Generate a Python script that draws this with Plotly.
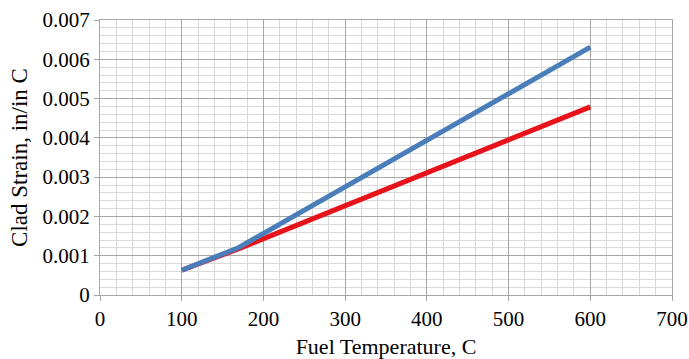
import plotly.graph_objects as go

# Data
blue_x = [100, 170, 600]
blue_y = [0.00063, 0.00121, 0.00631]
red_x = [100, 170, 600]
red_y = [0.00063, 0.00118, 0.00479]

x_ticks = [0, 100, 200, 300, 400, 500, 600, 700]
y_ticks = [0, 0.001, 0.002, 0.003, 0.004, 0.005, 0.006, 0.007]
y_tick_text = ["0", "0.001", "0.002", "0.003", "0.004", "0.005", "0.006", "0.007"]

fig = go.Figure()
fig.add_trace(go.Scatter(x=red_x, y=red_y, mode="lines",
                         line=dict(color="#e8121b", width=5), showlegend=False))
fig.add_trace(go.Scatter(x=blue_x, y=blue_y, mode="lines",
                         line=dict(color="#4a7ebb", width=5), showlegend=False))

font_family = "Liberation Serif"
fig.update_layout(
    width=689, height=359,
    margin=dict(l=100, r=17, t=20, b=64),
    paper_bgcolor="white", plot_bgcolor="white",
    font=dict(family=font_family, size=21, color="black"),
    xaxis=dict(
        range=[0, 700], tickvals=x_ticks, ticks="outside", ticklen=5,
        tickcolor="#a6a6a6", showline=True, linecolor="#a6a6a6", linewidth=1,
        showgrid=True, gridcolor="#a6a6a6", gridwidth=1, zeroline=False,
        minor=dict(dtick=20, showgrid=True, gridcolor="#d9d9d9", gridwidth=1),
        mirror=True, automargin=False,
        title=dict(text="Fuel Temperature, C", font=dict(size=22), standoff=8),
        tickfont=dict(size=21),
    ),
    yaxis=dict(
        range=[0, 0.007], tickvals=y_ticks, ticktext=y_tick_text, ticks="outside",
        ticklen=5, tickcolor="#a6a6a6", showline=True, linecolor="#a6a6a6",
        linewidth=1, showgrid=True, gridcolor="#a6a6a6", gridwidth=1, zeroline=False,
        minor=dict(dtick=0.0002, showgrid=True, gridcolor="#d9d9d9", gridwidth=1),
        mirror=True, automargin=False,
        title=dict(text="Clad Strain, in/in C", font=dict(size=23), standoff=8),
        tickfont=dict(size=21),
    ),
)

fig.write_html("out.html")
